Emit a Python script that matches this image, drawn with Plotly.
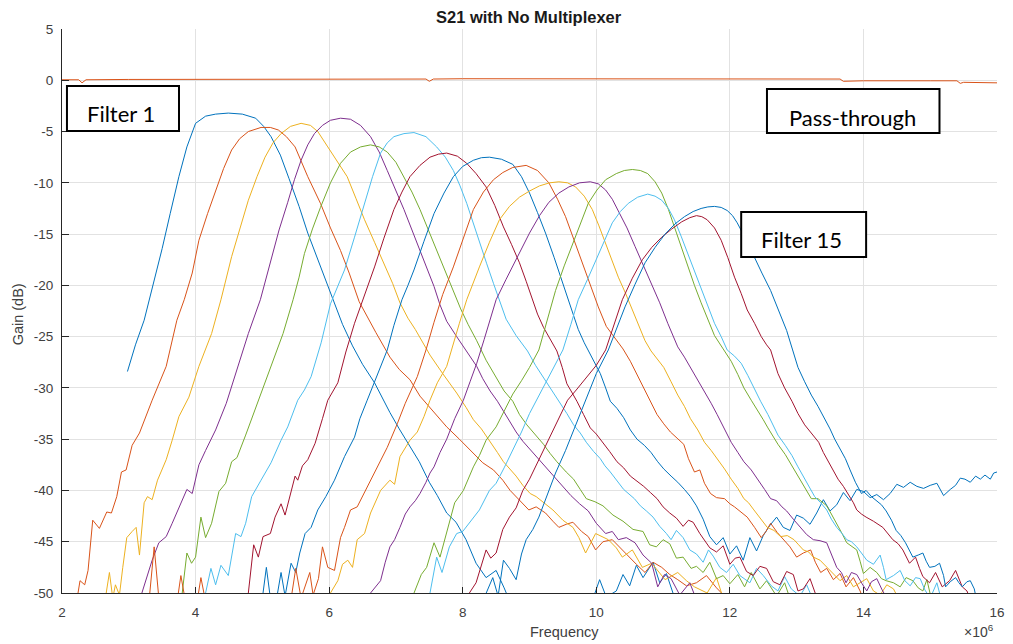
import numpy as np
import plotly.graph_objects as go

# ---------------- data (frequency in MHz, gain in dB) ----------------
F1 = [(2.98,-28.4),(3.1,-25.8),(3.23,-23.4),(3.34,-20.6),(3.5,-16.4),(3.62,-13.0),(3.75,-9.4),(3.87,-6.5),(4.0,-4.2),(4.15,-3.5),
      (4.3,-3.3),(4.49,-3.2),(4.7,-3.3),(4.9,-3.7),(5.02,-4.5),(5.13,-5.5),(5.27,-7.3),(5.4,-9.6),(5.55,-12.3),(5.68,-14.9),
      (5.83,-17.5),(5.98,-20.1),(6.08,-21.9),(6.2,-23.8),(6.35,-25.9),(6.5,-27.7),(6.68,-29.5),(6.91,-32.4),(7.05,-34.0),(7.2,-35.6),
      (7.35,-37.2),(7.5,-39.2),(7.62,-40.5),(7.76,-42.2),(7.9,-43.1),(8.05,-44.8),(8.2,-47.1),(8.35,-48.5),(8.5,-47.8),(8.62,-49.5),
      (8.75,-51.5),(9.9,-51.5),(10.05,-48.7),(10.15,-50.4),(10.3,-49.8),(10.4,-48.2),(10.5,-49.3),(10.6,-47.3),(10.7,-48.5),(10.85,-47.0),
      (10.95,-49.0),(11.05,-48.1),(11.2,-51.0)]

F2 = [(2.15,-52),(2.24,-50),(2.27,-48.8),(2.34,-49.2),(2.39,-47.8),(2.46,-42.9),(2.56,-43.7),(2.67,-42.1),(2.74,-42.2),(2.82,-40.6),
      (2.89,-38.2),(2.96,-38.0),(3.05,-35.6),(3.16,-34.4),(3.35,-31.2),(3.56,-27.9),(3.72,-23.4),(3.83,-21.4),(3.95,-18.8),(4.05,-15.6),
      (4.18,-13.0),(4.3,-10.7),(4.42,-8.6),(4.54,-6.8),(4.66,-5.7),(4.79,-5.0),(4.98,-4.6),(5.12,-4.6),(5.24,-4.85),(5.36,-5.5),
      (5.49,-6.5),(5.68,-9.4),(5.87,-12.0),(6.02,-14.4),(6.17,-16.6),(6.3,-18.8),(6.45,-21.6),(6.7,-24.6),(6.91,-27.0),(7.05,-28.2),
      (7.21,-29.2),(7.36,-30.8),(7.51,-31.9),(7.76,-33.8),(7.95,-35.0),(8.16,-36.4),(8.3,-37.3),(8.46,-38.0),(8.6,-39.0),(8.71,-40.0),
      (8.85,-41.0),(8.99,-41.9),(9.1,-41.6),(9.24,-42.2),(9.35,-43.0),(9.44,-43.6),(9.55,-43.3),(9.65,-43.1),(9.78,-44.0),(9.88,-44.5),
      (9.99,-45.8),(10.1,-45.0),(10.24,-44.8),(10.36,-45.6),(10.48,-46.5),(10.6,-47.2),(10.73,-48.0),(10.85,-47.0),(10.98,-47.5),(11.1,-48.2),
      (11.22,-48.7),(11.35,-49.3),(11.5,-49.0),(11.65,-48.3),(11.8,-49.5),(11.95,-50.5),(12.1,-52)]

F3 = [(2.55,-52),(2.65,-50.5),(2.71,-48.0),(2.76,-50.5),(2.8,-49.2),(2.86,-50.2),(2.91,-47.5),(2.97,-44.6),(3.05,-44.0),(3.11,-43.6),
      (3.16,-46.3),(3.23,-41.2),(3.28,-40.6),(3.35,-40.9),(3.43,-39.0),(3.56,-37.0),(3.65,-35.1),(3.75,-32.8),(3.9,-30.9),(4.05,-27.9),
      (4.24,-24.7),(4.38,-21.4),(4.54,-17.2),(4.67,-14.3),(4.79,-11.7),(4.92,-9.4),(5.04,-7.5),(5.16,-6.1),(5.28,-5.2),(5.42,-4.5),
      (5.58,-4.2),(5.72,-4.4),(5.83,-5.0),(5.98,-6.5),(6.12,-7.9),(6.27,-9.4),(6.4,-11.5),(6.53,-13.6),(6.68,-15.8),(6.82,-17.8),
      (6.95,-19.8),(7.06,-21.7),(7.18,-23.2),(7.29,-24.3),(7.4,-25.6),(7.51,-26.8),(7.7,-28.6),(7.91,-30.5),(8.05,-31.9),(8.16,-33.1),
      (8.28,-34.0),(8.4,-35.1),(8.52,-36.3),(8.61,-37.2),(8.7,-37.9),(8.8,-38.6),(8.9,-39.5),(9.01,-40.3),(9.1,-40.6),(9.22,-41.2),
      (9.35,-41.9),(9.5,-42.9),(9.65,-43.6),(9.74,-44.6),(9.84,-46.1),(9.99,-44.2),(10.18,-44.8),(10.3,-45.6),(10.39,-46.5),(10.54,-45.8),
      (10.69,-47.5),(10.83,-47.1),(11.03,-48.7),(11.22,-48.0),(11.35,-48.8),(11.47,-49.4),(11.66,-50.0),(11.8,-48.5),(11.95,-51.5)]

F4 = [(3.1,-52),(3.23,-49.4),(3.29,-48.2),(3.35,-46.8),(3.45,-45.1),(3.56,-44.5),(3.65,-43.2),(3.8,-40.9),(3.87,-39.9),(3.95,-40.3),
      (4.05,-37.5),(4.15,-36.1),(4.3,-34.1),(4.46,-31.5),(4.64,-27.9),(4.79,-24.7),(4.97,-21.4),(5.13,-17.5),(5.25,-14.6),(5.38,-11.9),
      (5.48,-9.7),(5.58,-7.8),(5.68,-6.3),(5.78,-5.2),(5.9,-4.4),(6.02,-3.9),(6.17,-3.7),(6.32,-3.8),(6.47,-4.4),(6.62,-5.5),
      (6.75,-7.0),(6.87,-8.8),(7.0,-10.7),(7.12,-12.6),(7.24,-14.6),(7.36,-16.6),(7.47,-18.4),(7.57,-20.1),(7.66,-21.9),(7.76,-23.5),
      (7.91,-25.0),(8.05,-26.3),(8.21,-27.9),(8.3,-29.1),(8.41,-30.3),(8.52,-31.3),(8.61,-32.3),(8.7,-33.3),(8.8,-34.3),(8.9,-35.2),
      (9.01,-36.0),(9.11,-36.8),(9.21,-37.5),(9.31,-38.2),(9.41,-38.9),(9.52,-39.7),(9.62,-40.5),(9.75,-41.3),(9.88,-42.0),(10.0,-43.2),
      (10.14,-44.2),(10.24,-44.0),(10.33,-44.8),(10.45,-44.6),(10.58,-45.1),(10.7,-46.3),(10.83,-47.1),(10.92,-49.4),(11.02,-48.2),(11.12,-48.6),
      (11.25,-50.2),(11.4,-49.0),(11.55,-51.5)]

F5 = [(3.65,-52),(3.8,-50.0),(3.87,-46.1),(3.94,-47.1),(4.0,-46.5),(4.08,-42.6),(4.15,-44.6),(4.24,-43.2),(4.35,-40.1),(4.45,-39.3),
      (4.54,-37.2),(4.62,-36.8),(4.75,-34.6),(4.94,-31.2),(5.13,-27.9),(5.31,-24.7),(5.46,-21.4),(5.55,-19.2),(5.63,-16.9),(5.75,-14.5),
      (5.87,-12.4),(6.02,-10.0),(6.17,-8.1),(6.32,-7.0),(6.47,-6.5),(6.62,-6.3),(6.75,-6.5),(6.87,-7.0),(7.0,-8.0),(7.12,-9.4),
      (7.24,-10.9),(7.36,-12.6),(7.48,-14.5),(7.61,-16.6),(7.74,-18.6),(7.86,-20.5),(7.97,-22.3),(8.08,-23.8),(8.21,-25.4),(8.35,-27.3),
      (8.5,-29.0),(8.62,-30.3),(8.75,-31.3),(8.85,-32.6),(8.96,-33.6),(9.08,-34.5),(9.21,-35.5),(9.31,-36.4),(9.41,-37.2),(9.55,-38.2),
      (9.66,-38.9),(9.76,-39.9),(9.85,-40.8),(9.98,-41.1),(10.1,-41.5),(10.25,-42.4),(10.4,-43.0),(10.55,-43.8),(10.7,-44.0),(10.8,-45.3),
      (10.9,-45.5),(11.0,-44.8),(11.1,-45.2),(11.2,-46.6),(11.3,-46.5),(11.42,-47.6),(11.5,-47.4),(11.6,-48.0),(11.7,-47.0),(11.8,-48.6),
      (11.9,-48.3),(12.0,-49.1),(12.12,-48.2),(12.22,-49.4),(12.32,-48.0),(12.45,-49.6),(12.55,-48.8),(12.7,-50.3),(12.82,-49.0),(12.95,-51.5)]

F6 = [(4.05,-52),(4.15,-50.0),(4.23,-47.6),(4.3,-49.2),(4.38,-47.3),(4.49,-48.3),(4.6,-44.2),(4.68,-44.5),(4.75,-43.2),(4.84,-40.6),
      (4.98,-39.0),(5.13,-37.3),(5.28,-35.1),(5.38,-33.8),(5.53,-31.2),(5.63,-30.2),(5.73,-28.9),(5.88,-25.6),(6.02,-21.8),(6.12,-20.2),
      (6.23,-18.5),(6.38,-15.3),(6.53,-12.0),(6.65,-9.4),(6.77,-7.1),(6.87,-6.1),(6.97,-5.5),(7.12,-5.2),(7.27,-5.1),(7.45,-5.5),
      (7.61,-6.5),(7.74,-7.5),(7.86,-8.8),(7.96,-10.3),(8.06,-12.0),(8.16,-14.0),(8.25,-15.9),(8.36,-17.9),(8.46,-19.8),(8.56,-21.6),
      (8.65,-23.3),(8.8,-24.9),(8.97,-26.4),(9.09,-27.8),(9.21,-29.0),(9.33,-30.2),(9.45,-31.3),(9.56,-32.5),(9.66,-33.6),(9.76,-34.4),
      (9.85,-35.3),(9.96,-36.2),(10.06,-36.9),(10.13,-37.6),(10.21,-38.2),(10.31,-39.0),(10.41,-39.9),(10.57,-40.8),(10.66,-41.5),(10.75,-42.0),
      (10.85,-42.6),(10.95,-43.5),(11.05,-44.2),(11.12,-44.8),(11.2,-43.9),(11.3,-44.6),(11.4,-45.8),(11.5,-46.2),(11.6,-47.0),(11.68,-45.8),
      (11.75,-46.4),(11.85,-47.5),(11.95,-48.0),(12.05,-47.2),(12.15,-48.3),(12.3,-49.0),(12.4,-47.6),(12.5,-48.3),(12.62,-49.3),(12.72,-49.8),
      (12.82,-48.4),(12.92,-49.6),(13.05,-50.3),(13.15,-49.2),(13.3,-51.5)]

F7 = [(4.7,-52),(4.79,-50.0),(4.87,-45.3),(4.94,-46.5),(5.01,-44.5),(5.12,-44.2),(5.19,-42.6),(5.28,-41.3),(5.34,-42.4),(5.43,-40.0),
      (5.49,-38.6),(5.53,-39.0),(5.6,-37.6),(5.68,-37.0),(5.79,-35.4),(5.9,-33.0),(5.98,-31.2),(6.13,-29.5),(6.25,-26.5),(6.38,-23.7),
      (6.53,-21.0),(6.68,-18.2),(6.82,-15.4),(6.97,-12.6),(7.09,-10.9),(7.21,-9.4),(7.36,-8.3),(7.51,-7.5),(7.64,-7.2),(7.76,-7.1),
      (7.92,-7.4),(8.06,-8.1),(8.2,-9.1),(8.35,-10.4),(8.48,-12.2),(8.61,-14.3),(8.73,-16.0),(8.85,-17.8),(8.95,-19.6),(9.04,-21.4),
      (9.12,-22.8),(9.21,-24.1),(9.31,-25.3),(9.41,-26.4),(9.49,-28.0),(9.56,-29.6),(9.64,-30.5),(9.71,-31.3),(9.81,-32.6),(9.91,-33.9),
      (10.0,-34.5),(10.1,-35.3),(10.2,-36.2),(10.31,-37.2),(10.41,-37.8),(10.51,-38.6),(10.61,-39.1),(10.71,-39.6),(10.81,-40.2),(10.91,-40.8),
      (11.0,-41.6),(11.1,-42.2),(11.2,-42.7),(11.3,-43.5),(11.38,-42.9),(11.45,-43.1),(11.55,-44.2),(11.62,-44.8),(11.7,-45.6),(11.8,-46.0),
      (11.9,-45.4),(12.0,-47.2),(12.08,-46.6),(12.15,-46.5),(12.25,-47.9),(12.35,-48.3),(12.45,-47.4),(12.55,-47.6),(12.65,-48.9),(12.75,-49.2),
      (12.85,-47.9),(12.95,-48.2),(13.02,-49.8),(13.1,-49.6),(13.2,-48.6),(13.3,-50.4),(13.45,-51.5)]

F8 = [(4.9,-52),(5.0,-50.5),(5.06,-47.5),(5.12,-50.5),(5.22,-50.3),(5.28,-48.0),(5.34,-50.3),(5.43,-47.1),(5.5,-48.0),(5.56,-46.1),
      (5.64,-44.2),(5.73,-43.6),(5.83,-41.9),(5.95,-40.6),(6.08,-39.0),(6.23,-36.7),(6.38,-34.8),(6.46,-33.0),(6.57,-31.2),(6.72,-28.8),
      (6.87,-26.3),(6.97,-23.9),(7.09,-21.4),(7.18,-20.0),(7.27,-18.5),(7.42,-15.7),(7.57,-13.0),(7.72,-11.0),(7.86,-9.4),(8.0,-8.4),
      (8.16,-7.8),(8.28,-7.55),(8.4,-7.5),(8.58,-7.7),(8.75,-8.2),(8.88,-9.4),(9.0,-11.0),(9.12,-12.9),(9.24,-14.9),(9.37,-17.3),
      (9.5,-19.8),(9.62,-22.2),(9.73,-24.3),(9.82,-25.6),(9.91,-26.7),(9.98,-27.6),(10.06,-28.6),(10.14,-30.0),(10.21,-31.3),(10.31,-32.0),
      (10.41,-32.9),(10.51,-34.1),(10.61,-35.0),(10.72,-35.6),(10.82,-36.3),(10.92,-37.2),(11.01,-37.9),(11.12,-38.6),(11.22,-39.2),(11.32,-39.9),
      (11.41,-40.6),(11.5,-41.5),(11.6,-42.8),(11.7,-44.5),(11.8,-45.3),(11.9,-44.6),(12.0,-46.2),(12.1,-45.4),(12.2,-46.8),(12.3,-44.6),
      (12.4,-45.9),(12.5,-44.4),(12.6,-43.4),(12.7,-42.6),(12.8,-43.6),(12.9,-43.9),(13.0,-42.4),(13.1,-42.7),(13.2,-43.3),(13.3,-42.2),
      (13.4,-40.9),(13.5,-42.0),(13.6,-41.4),(13.7,-40.2),(13.8,-41.0),(13.9,-39.9),(14.0,-40.1),(14.1,-40.7),(14.2,-40.4),(14.3,-40.9),
      (14.4,-40.3),(14.5,-39.4),(14.6,-39.7),(14.7,-39.2),(14.8,-39.6),(14.9,-39.8),(15.0,-39.5),(15.1,-39.3),(15.2,-40.5),(15.3,-39.9),
      (15.38,-39.5),(15.45,-38.8),(15.52,-38.9),(15.6,-39.2),(15.68,-38.6),(15.75,-38.9),(15.82,-38.5),(15.9,-38.9),(15.95,-38.3),(16.0,-38.2)]

F9 = [(2.0,-52),(3.3,-51),(3.38,-45.5),(3.45,-50.5),(3.72,-51),(3.78,-48.3),(3.84,-50.5),(4.02,-51),(4.08,-48.5),(4.14,-50.5),
      (5.42,-51),(5.5,-47.6),(5.58,-50.5),(5.66,-49.0),(5.71,-48.0),(5.76,-50.2),(5.84,-48.6),(5.9,-45.5),(5.98,-47.5),(6.08,-47.8),
      (6.17,-44.6),(6.23,-43.6),(6.32,-41.9),(6.42,-41.6),(6.57,-39.7),(6.72,-37.7),(6.87,-35.8),(7.02,-33.5),(7.14,-31.5),(7.32,-28.9),
      (7.45,-26.3),(7.57,-23.6),(7.7,-20.9),(7.86,-18.2),(8.01,-15.3),(8.16,-12.6),(8.31,-10.9),(8.46,-9.7),(8.6,-9.0),(8.75,-8.5),
      (8.95,-8.3),(9.12,-8.8),(9.29,-10.0),(9.42,-11.6),(9.54,-13.3),(9.67,-15.6),(9.79,-17.8),(9.91,-20.0),(10.03,-22.1),(10.15,-24.0),
      (10.28,-25.2),(10.4,-26.2),(10.51,-27.4),(10.61,-28.7),(10.71,-30.0),(10.81,-31.3),(10.91,-32.6),(11.01,-33.5),(11.11,-34.3),(11.21,-34.9),
      (11.31,-35.5),(11.38,-36.9),(11.47,-38.2),(11.55,-38.0),(11.62,-39.3),(11.71,-40.3),(11.8,-40.7),(11.92,-40.8),(12.0,-41.3),(12.07,-41.6),
      (12.17,-42.1),(12.26,-42.6),(12.37,-43.6),(12.47,-44.6),(12.54,-44.0),(12.61,-43.2),(12.71,-44.1),(12.81,-44.8),(12.9,-45.5),(13.0,-46.5),
      (13.1,-46.1),(13.21,-45.8),(13.28,-47.0),(13.36,-48.0),(13.45,-47.6),(13.55,-48.7),(13.65,-48.1),(13.74,-49.4),(13.85,-48.5),(13.95,-49.8),
      (14.05,-51.5)]

F10 = [(5.9,-52),(6.02,-50.0),(6.13,-48.8),(6.2,-47.2),(6.28,-46.8),(6.35,-47.5),(6.42,-44.8),(6.53,-44.2),(6.62,-42.2),(6.77,-40.0),
       (6.91,-39.0),(6.98,-39.4),(7.06,-36.7),(7.21,-35.1),(7.32,-34.3),(7.42,-32.8),(7.51,-31.2),(7.62,-29.5),(7.76,-27.9),(7.86,-25.6),
       (7.95,-23.7),(8.06,-21.4),(8.15,-19.8),(8.25,-18.2),(8.4,-15.8),(8.55,-13.6),(8.7,-12.3),(8.85,-11.4),(9.0,-10.8),(9.15,-10.3),
       (9.3,-10.0),(9.44,-9.9),(9.57,-10.0),(9.69,-10.4),(9.82,-11.3),(9.94,-12.6),(10.04,-14.2),(10.14,-15.9),(10.24,-17.6),(10.33,-19.2),
       (10.44,-20.8),(10.54,-22.4),(10.64,-24.0),(10.73,-25.4),(10.82,-26.4),(10.92,-27.2),(11.01,-28.0),(11.12,-29.4),(11.22,-30.7),(11.32,-31.8),
       (11.41,-33.0),(11.52,-34.1),(11.62,-35.3),(11.72,-36.1),(11.81,-36.9),(11.92,-37.9),(12.02,-38.9),(12.12,-39.8),(12.21,-40.8),(12.28,-41.2),
       (12.36,-41.9),(12.46,-42.8),(12.56,-43.6),(12.66,-43.9),(12.76,-44.5),(12.86,-44.4),(12.96,-44.8),(13.03,-45.3),(13.1,-45.8),(13.18,-46.0),
       (13.25,-46.5),(13.35,-46.8),(13.45,-47.5),(13.55,-48.2),(13.65,-48.8),(13.75,-48.3),(13.85,-49.4),(13.95,-49.0),(14.05,-48.6),(14.15,-49.8),
       (14.25,-50.2),(14.35,-49.2),(14.45,-49.6),(14.6,-51.5)]

F11 = [(6.5,-52),(6.62,-50.0),(6.77,-48.8),(6.84,-47.0),(6.91,-45.5),(6.98,-44.8),(7.06,-43.6),(7.14,-42.3),(7.21,-41.6),(7.29,-41.0),
       (7.36,-40.3),(7.45,-39.2),(7.51,-38.3),(7.57,-37.7),(7.66,-36.3),(7.76,-35.0),(7.88,-33.0),(8.01,-31.2),(8.11,-29.4),(8.21,-27.6),
       (8.32,-25.3),(8.41,-23.3),(8.5,-21.4),(8.65,-19.4),(8.8,-17.5),(8.9,-16.2),(9.0,-14.9),(9.15,-13.2),(9.29,-11.9),(9.44,-11.0),
       (9.59,-10.4),(9.75,-10.0),(9.91,-9.9),(10.03,-10.1),(10.14,-10.7),(10.24,-11.6),(10.33,-12.7),(10.46,-14.4),(10.58,-16.2),(10.7,-18.0),
       (10.83,-19.8),(10.95,-21.7),(11.07,-23.7),(11.15,-25.0),(11.22,-26.0),(11.32,-27.0),(11.41,-28.0),(11.52,-29.2),(11.62,-30.3),(11.72,-31.5),
       (11.81,-32.6),(11.92,-34.0),(12.02,-35.3),(12.12,-36.3),(12.21,-37.2),(12.32,-38.0),(12.42,-38.9),(12.52,-39.9),(12.61,-40.8),(12.7,-41.0),
       (12.78,-41.6),(12.85,-42.0),(12.95,-42.8),(13.06,-43.6),(13.15,-44.3),(13.25,-44.8),(13.35,-44.9),(13.45,-45.1),(13.52,-46.3),(13.6,-47.5),
       (13.67,-48.0),(13.74,-49.0),(13.82,-48.0),(13.9,-48.2),(13.98,-49.1),(14.05,-49.8),(14.12,-48.9),(14.2,-48.6),(14.28,-49.7),(14.35,-50.5),
       (14.5,-51.5)]

F12 = [(7.15,-52),(7.31,-49.4),(7.38,-48.2),(7.46,-47.5),(7.57,-45.1),(7.66,-46.5),(7.76,-44.2),(7.88,-41.2),(8.01,-40.0),(8.16,-37.7),
       (8.25,-36.6),(8.35,-35.1),(8.5,-33.8),(8.62,-32.2),(8.75,-30.6),(8.88,-29.3),(9.0,-28.0),(9.14,-26.3),(9.27,-23.4),(9.39,-20.5),
       (9.52,-18.1),(9.65,-15.9),(9.77,-13.8),(9.88,-12.0),(10.01,-10.7),(10.14,-9.7),(10.3,-9.1),(10.42,-8.8),(10.54,-8.7),(10.66,-8.8),
       (10.77,-9.1),(10.88,-9.9),(10.98,-11.0),(11.08,-12.6),(11.17,-14.3),(11.27,-16.2),(11.37,-18.2),(11.47,-20.0),(11.57,-21.7),(11.67,-23.4),
       (11.77,-24.9),(11.9,-26.2),(12.02,-27.4),(12.12,-28.7),(12.21,-30.0),(12.32,-31.2),(12.42,-32.2),(12.5,-33.1),(12.57,-33.9),(12.65,-34.8),
       (12.72,-35.5),(12.83,-36.5),(12.93,-37.6),(13.0,-38.4),(13.07,-39.2),(13.15,-40.0),(13.22,-40.8),(13.32,-40.8),(13.45,-41.5),(13.52,-42.3),
       (13.6,-43.2),(13.68,-44.2),(13.75,-45.1),(13.82,-45.4),(13.9,-45.8),(13.95,-46.9),(14.0,-48.1),(14.1,-47.5),(14.2,-48.0),(14.27,-48.6),
       (14.34,-48.8),(14.45,-49.0),(14.55,-49.4),(14.64,-48.5),(14.74,-48.8),(14.82,-49.5),(14.89,-49.8),(14.95,-48.7),(15.05,-51.5)]

F13 = [(7.4,-52),(7.51,-50.0),(7.61,-46.5),(7.69,-48.0),(7.8,-45.5),(7.91,-44.2),(8.0,-44.0),(8.1,-43.2),(8.25,-41.9),(8.4,-40.0),
       (8.5,-39.3),(8.62,-37.8),(8.75,-36.1),(8.88,-34.3),(9.0,-32.5),(9.12,-31.0),(9.25,-29.4),(9.38,-27.8),(9.5,-26.3),(9.62,-23.8),
       (9.73,-21.4),(9.87,-19.4),(10.0,-17.5),(10.12,-15.6),(10.24,-13.9),(10.36,-12.8),(10.48,-12.0),(10.62,-11.4),(10.77,-11.1),(10.88,-11.3),
       (10.98,-11.7),(11.08,-12.5),(11.17,-13.6),(11.27,-15.2),(11.37,-16.9),(11.47,-18.7),(11.57,-20.5),(11.67,-22.1),(11.77,-23.7),(11.87,-25.0),
       (11.96,-26.3),(12.07,-26.9),(12.17,-27.6),(12.27,-28.8),(12.36,-30.0),(12.46,-31.3),(12.57,-32.6),(12.65,-33.6),(12.72,-34.6),(12.83,-35.6),
       (12.93,-36.6),(13.02,-37.7),(13.12,-38.9),(13.2,-39.8),(13.27,-40.6),(13.36,-41.2),(13.45,-41.9),(13.52,-42.8),(13.6,-43.6),(13.68,-44.2),
       (13.75,-44.8),(13.82,-45.0),(13.9,-45.5),(13.97,-46.1),(14.05,-46.8),(14.15,-47.2),(14.25,-46.3),(14.3,-47.5),(14.34,-48.7),(14.45,-48.3),
       (14.55,-47.8),(14.62,-48.8),(14.7,-49.3),(14.78,-48.5),(14.85,-48.6),(14.92,-49.7),(15.0,-50.5),(15.1,-49.0),(15.2,-51.5)]

F14 = [(8.0,-52),(8.1,-50.0),(8.2,-49.0),(8.28,-47.3),(8.35,-45.8),(8.42,-46.6),(8.5,-46.1),(8.6,-43.8),(8.7,-42.6),(8.8,-41.7),
       (8.9,-40.0),(9.0,-38.9),(9.14,-37.0),(9.25,-35.6),(9.36,-34.1),(9.47,-32.5),(9.57,-31.2),(9.7,-30.2),(9.85,-29.0),(10.0,-27.8),
       (10.14,-26.3),(10.27,-23.8),(10.39,-21.4),(10.54,-19.3),(10.69,-17.5),(10.83,-16.3),(10.98,-15.3),(11.13,-14.5),(11.28,-13.8),(11.4,-13.4),
       (11.5,-13.2),(11.58,-13.3),(11.66,-13.6),(11.77,-14.4),(11.87,-15.6),(11.97,-17.3),(12.07,-19.2),(12.17,-20.8),(12.26,-22.4),(12.37,-23.7),
       (12.47,-25.0),(12.55,-25.8),(12.61,-26.3),(12.72,-28.6),(12.82,-30.0),(12.93,-31.3),(13.02,-32.5),(13.12,-33.6),(13.23,-34.5),(13.33,-35.3),
       (13.4,-36.3),(13.48,-37.2),(13.55,-38.0),(13.62,-38.9),(13.7,-39.6),(13.77,-40.3),(13.85,-41.2),(13.9,-41.9),(13.97,-42.3),(14.04,-42.6),
       (14.15,-43.0),(14.29,-43.6),(14.36,-44.2),(14.44,-44.8),(14.52,-45.2),(14.59,-45.8),(14.69,-47.1),(14.78,-46.5),(14.84,-47.6),(14.89,-48.4),
       (14.99,-49.0),(15.08,-48.0),(15.18,-49.4),(15.29,-48.8),(15.38,-47.8),(15.48,-49.4),(15.55,-49.8),(15.65,-51.5)]

F15 = [(8.2,-52),(8.3,-50.8),(8.45,-48.5),(8.53,-50.3),(8.61,-46.8),(8.7,-47.6),(8.8,-48.7),(8.88,-46.2),(8.95,-44.8),(9.05,-43.8),
       (9.14,-42.6),(9.27,-40.4),(9.39,-38.3),(9.54,-36.1),(9.69,-33.6),(9.84,-31.2),(10.0,-28.6),(10.18,-26.3),(10.3,-24.2),(10.43,-22.1),
       (10.58,-19.9),(10.73,-17.8),(10.88,-16.3),(11.03,-15.0),(11.18,-14.0),(11.32,-13.3),(11.45,-12.8),(11.57,-12.5),(11.67,-12.35),(11.77,-12.3),
       (11.87,-12.4),(11.96,-12.7),(12.04,-13.2),(12.11,-13.9),(12.24,-15.5),(12.36,-17.2),(12.48,-18.8),(12.61,-20.5),(12.73,-22.4),(12.85,-24.4),
       (12.94,-26.3),(13.02,-28.0),(13.12,-29.4),(13.22,-30.7),(13.32,-31.8),(13.42,-33.0),(13.5,-34.0),(13.57,-35.0),(13.65,-35.9),(13.73,-36.9),
       (13.8,-38.0),(13.88,-39.2),(13.97,-40.3),(14.04,-40.0),(14.12,-40.6),(14.19,-41.0),(14.27,-41.4),(14.34,-42.0),(14.42,-42.9),(14.49,-43.9),
       (14.56,-44.4),(14.63,-45.1),(14.69,-45.8),(14.74,-46.5),(14.82,-46.3),(14.89,-46.1),(14.94,-46.9),(14.99,-47.5),(15.07,-47.4),(15.14,-47.1),
       (15.2,-48.3),(15.23,-49.4),(15.3,-48.9),(15.38,-48.5),(15.43,-49.0),(15.48,-49.4),(15.55,-48.9),(15.6,-48.8),(15.66,-49.6),(15.72,-51.5)]

PASS = [(2.0,0.05),(2.25,0.05),(2.3,-0.25),(2.36,0.05),(3.0,0.08),(4.0,0.1),(5.0,0.1),(6.0,0.1),(7.0,0.12),(7.45,0.12),
        (7.5,-0.1),(7.56,0.12),(8.0,0.15),(9.0,0.15),(10.0,0.15),(11.0,0.15),(12.0,0.15),(13.0,0.12),(13.65,0.12),(13.7,-0.1),
        (14.0,-0.05),(15.0,-0.05),(15.4,-0.05),(15.45,-0.3),(15.5,-0.2),(16.0,-0.25)]

FILTERS = [F1, F2, F3, F4, F5, F6, F7, F8, F9, F10, F11, F12, F13, F14, F15]
X_TICKS_MHZ = [2, 4, 6, 8, 10, 12, 14, 16]
Y_TICKS = [-50, -45, -40, -35, -30, -25, -20, -15, -10, -5, 0, 5]

MATLAB_COLORS = ['#0072BD', '#D95319', '#EDB120', '#7E2F8E', '#77AC30', '#4DBEEE', '#A2142F']

# ---------------- figure ----------------
# The page body has an 8 px default margin; the figure is sized so that it
# fills the 1013x644 window exactly.
OFF = 8
W, H = 1013 - OFF, 644 - OFF
L, R, T, B = 62, 1005, 29, 593   # plot area, in window pixels


def px(xp):
    return (xp - L) / (R - L)


def py(yp):
    return (B - yp) / (B - T)


fig = go.Figure()
series = FILTERS + [PASS]
for i, s in enumerate(series):
    f = np.array([p[0] for p in s]) * 1e6
    g = np.array([p[1] for p in s])
    fig.add_trace(go.Scatter(x=f, y=g, mode='lines',
                             line=dict(color=MATLAB_COLORS[i % 7], width=1),
                             name=('Filter %d' % (i + 1)) if i < 15 else 'Pass-through',
                             hoverinfo='skip'))

axis_col = '#262626'
tick_font = dict(family='Liberation Sans, Arial, sans-serif', size=13.5, color='#404040')

fig.update_xaxes(range=[2e6, 16e6], tickvals=[v * 1e6 for v in X_TICKS_MHZ],
                 ticktext=[str(v) for v in X_TICKS_MHZ],
                 showgrid=True, gridcolor='#e2e2e2', gridwidth=1, zeroline=False,
                 showline=True, linecolor=axis_col, linewidth=1, mirror=False,
                 ticks='inside', ticklen=6, tickcolor=axis_col, tickfont=tick_font,
                 ticklabelstandoff=7)
fig.update_yaxes(range=[-50, 5], tickvals=Y_TICKS, ticktext=[str(v) for v in Y_TICKS],
                 showgrid=True, gridcolor='#e2e2e2', gridwidth=1, zeroline=False,
                 showline=True, linecolor=axis_col, linewidth=1, mirror=False,
                 ticks='inside', ticklen=7, tickcolor=axis_col, tickfont=tick_font,
                 ticklabelstandoff=5)

label_font = dict(family='Liberation Sans, Arial, sans-serif', size=14.5, color='#404040')
box_font = dict(family='Lato, Open Sans, sans-serif', size=22, color='black')

annotations = [
    dict(text='<b>S21 with No Multiplexer</b>', x=px(533), y=py(17), xref='paper', yref='paper',
         showarrow=False, xanchor='center', yanchor='middle',
         font=dict(family='Liberation Sans, Arial, sans-serif', size=16.5, color='#1a1a1a')),
    dict(text='Frequency', x=px(569), y=py(632), xref='paper', yref='paper', showarrow=False,
         xanchor='center', yanchor='middle', font=label_font),
    dict(text='Gain (dB)', x=px(18), y=py(314), xref='paper', yref='paper', showarrow=False,
         xanchor='center', yanchor='middle', textangle=-90, font=label_font),
    dict(text='\u00d710<sup>6</sup>', x=px(1004), y=py(631), xref='paper', yref='paper', showarrow=False,
         xanchor='right', yanchor='middle',
         font=dict(family='Liberation Sans, Arial, sans-serif', size=14, color='#404040')),
    dict(text='Filter 1', x=px(122), y=py(114), xref='paper', yref='paper', showarrow=False,
         xanchor='center', yanchor='middle', font=box_font),
    dict(text='Pass-through', x=px(859), y=py(117), xref='paper', yref='paper', showarrow=False,
         xanchor='center', yanchor='middle', font=box_font),
    dict(text='Filter 15', x=px(808), y=py(239), xref='paper', yref='paper', showarrow=False,
         xanchor='center', yanchor='middle', font=box_font),
]

boxes = [(67, 86, 180, 131), (773, 89, 947, 133), (747, 212, 873, 257)]
shapes = [dict(type='rect', xref='paper', yref='paper', x0=px(a), x1=px(c), y0=py(d), y1=py(b),
               line=dict(color='black', width=2), fillcolor='white', layer='above')
          for (a, b, c, d) in boxes]

fig.update_layout(width=W, height=H,
                  margin=dict(l=L - OFF, r=1013 - R, t=T - OFF, b=644 - B),
                  paper_bgcolor='white', plot_bgcolor='white', showlegend=False,
                  annotations=annotations, shapes=shapes)

fig.write_html('out.html')
